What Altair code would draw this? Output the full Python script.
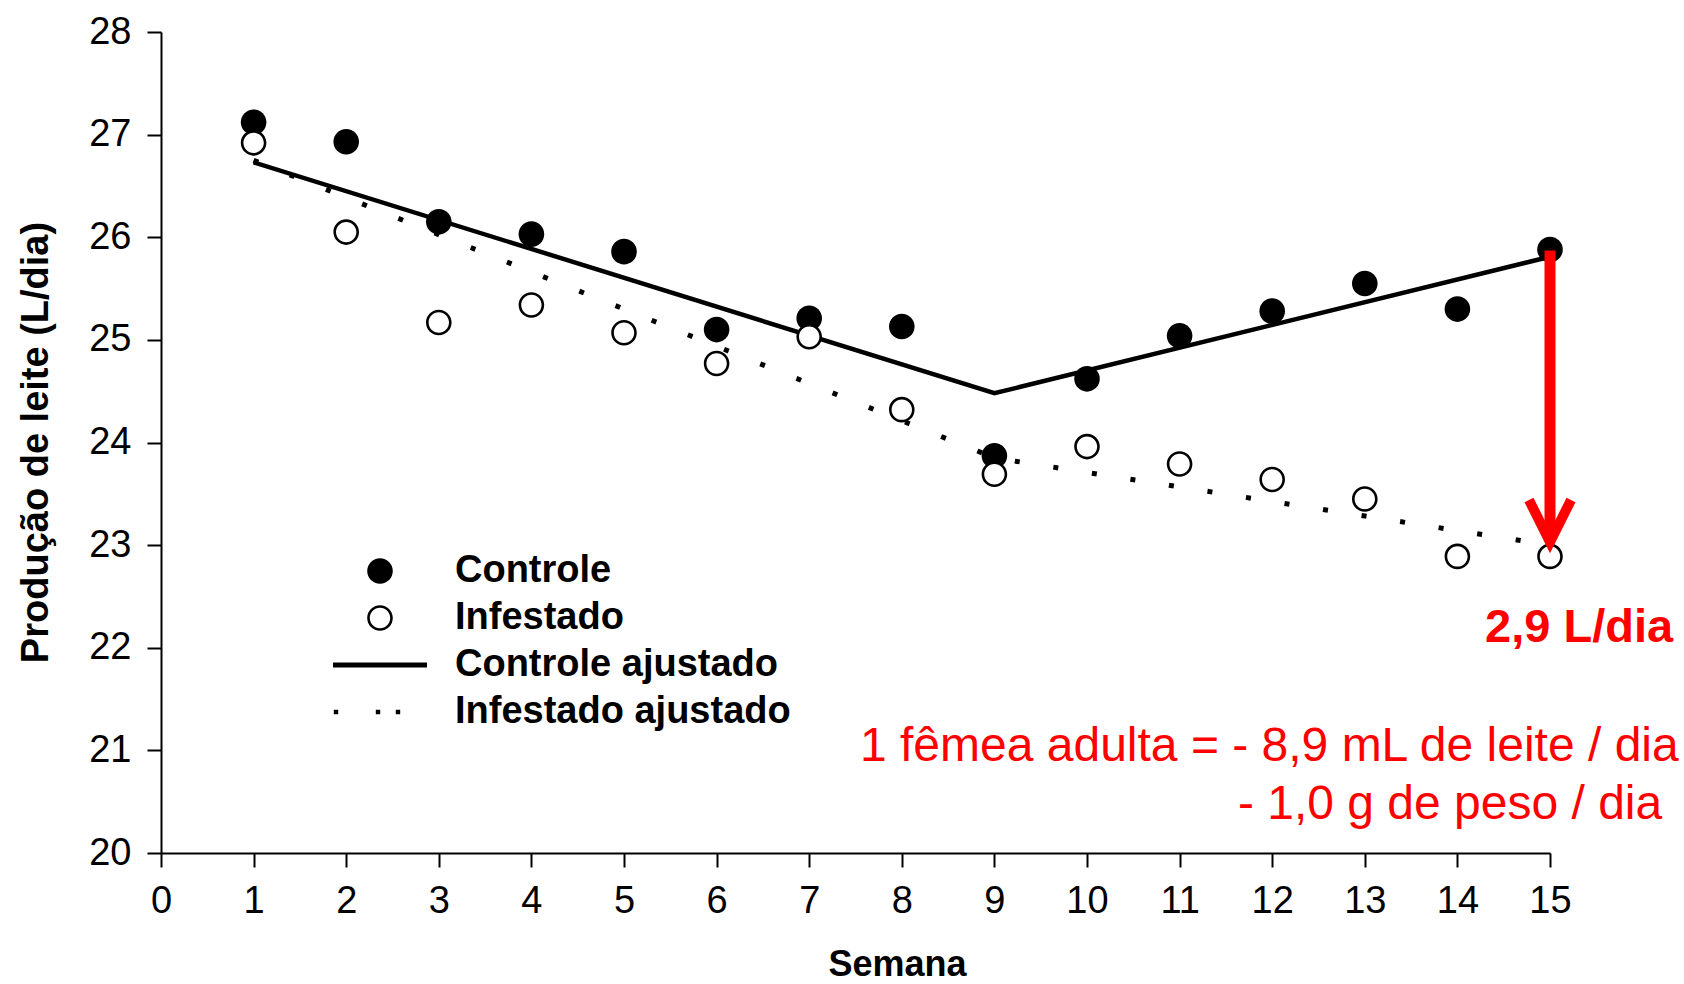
import altair as alt
import pandas as pd

# ---------------- data ----------------
semanas = list(range(1, 16))
controle = [27.12, 26.93, 26.15, 26.03, 25.86, 25.10, 25.21, 25.13, 23.87,
            24.62, 25.04, 25.28, 25.55, 25.30, 25.88]
infestado = [26.92, 26.05, 25.17, 25.34, 25.07, 24.77, 25.03, 24.32, 23.69,
             23.96, 23.79, 23.64, 23.45, 22.89, 22.89]
ajuste_semanas = [1, 9, 15]
controle_ajustado = [26.73, 24.48, 25.81]
infestado_ajustado = [26.75, 23.85, 23.00]
series = ["Controle", "Infestado", "Controle ajustado", "Infestado ajustado"]
x_ticks = list(range(0, 16))
y_ticks = list(range(20, 29))
texto_perda = "2,9 L/dia"
texto_femea_1 = "1 fêmea adulta = - 8,9 mL de leite / dia"
texto_femea_2 = "- 1,0 g de peso / dia"

pts = pd.DataFrame({
    "semana": semanas + semanas,
    "valor": controle + infestado,
    "serie": ["Controle"] * len(semanas) + ["Infestado"] * len(semanas),
})
fit = pd.DataFrame({
    "semana": ajuste_semanas + ajuste_semanas,
    "valor": controle_ajustado + infestado_ajustado,
    "serie": ["Controle ajustado"] * 3 + ["Infestado ajustado"] * 3,
})

FONT = "Liberation Sans"
RED = "#FF0000"

# symbol paths (units: 20 px at size 1600)
P_FILLED = "M0.64,0 A0.64,0.64 0 1,1 -0.64,0 A0.64,0.64 0 1,1 0.64,0 Z"
P_RING = ("M0.64,0 A0.64,0.64 0 1,1 -0.64,0 A0.64,0.64 0 1,1 0.64,0 Z "
          "M0.51,0 A0.51,0.51 0 1,0 -0.51,0 A0.51,0.51 0 1,0 0.51,0 Z")
P_LINE = "M-2.35,-0.13 L2.35,-0.13 L2.35,0.13 L-2.35,0.13 Z"
P_DOTS = ("M-2.31,-0.11 L-2.09,-0.11 L-2.09,0.11 L-2.31,0.11 Z "
          "M-0.21,-0.11 L0.01,-0.11 L0.01,0.11 L-0.21,0.11 Z "
          "M0.79,-0.11 L1.01,-0.11 L1.01,0.11 L0.79,0.11 Z")

x_axis = alt.Axis(
    values=x_ticks, format="d", title="Semana", grid=False,
    labelFont=FONT, labelFontSize=38, labelColor="black", labelPadding=15,
    labelFlush=False, labelOverlap=False,
    tickSize=14, tickWidth=2, tickColor="black",
    domainColor="black", domainWidth=2,
    titleFont=FONT, titleFontSize=36, titleFontWeight="bold", titleColor="black",
    titleX=736, titleY=122, titleAlign="center", titleBaseline="alphabetic",
)
y_axis = alt.Axis(
    values=y_ticks, format="d", title="Produção de leite (L/dia)", grid=False,
    labelFont=FONT, labelFontSize=38, labelColor="black", labelPadding=16,
    labelOverlap=False,
    tickSize=14, tickWidth=2, tickColor="black",
    domainColor="black", domainWidth=2,
    titleFont=FONT, titleFontSize=38, titleFontWeight="bold", titleColor="black",
    titleAngle=270, titleX=-114, titleY=410, titleAlign="center",
    titleBaseline="alphabetic",
)

x_scale = alt.Scale(domain=[0, 15], nice=False, zero=False)
y_scale = alt.Scale(domain=[20, 28], nice=False, zero=False)

def xenc():
    return alt.X("semana:Q", scale=x_scale, axis=x_axis)

def yenc():
    return alt.Y("valor:Q", scale=y_scale, axis=y_axis)

def xdat(v):
    return alt.XDatum(v, scale=x_scale, axis=x_axis)

def ydat(v):
    return alt.YDatum(v, scale=y_scale, axis=y_axis)

legend = alt.Legend(
    title=None, orient="none", legendX=199, legendY=519, padding=0,
    symbolSize=1600, symbolFillColor="black", symbolStrokeWidth=0,
    symbolOpacity=1, labelFont=FONT, labelFontSize=38, labelFontWeight="bold",
    labelColor="black", labelOffset=55, labelLimit=0, rowPadding=8,
)
shape_scale = alt.Scale(domain=series, range=[P_FILLED, P_RING, P_LINE, P_DOTS])

base_fit = alt.Chart(fit)
linha_controle = base_fit.transform_filter(
    alt.datum.serie == "Controle ajustado"
).mark_line(color="black", strokeWidth=4.5).encode(x=xenc(), y=yenc())
linha_infestado = base_fit.transform_filter(
    alt.datum.serie == "Infestado ajustado"
).mark_line(color="black", strokeWidth=5, strokeDash=[5, 34],
            strokeCap="butt").encode(x=xenc(), y=yenc())

base_pts = alt.Chart(pts)
pts_controle = base_pts.transform_filter(
    alt.datum.serie == "Controle"
).mark_point(filled=True, color="black", opacity=1, size=1600, strokeWidth=0).encode(
    x=xenc(), y=yenc(),
    shape=alt.Shape("serie:N", scale=shape_scale, legend=legend),
)
pts_fundo = base_pts.transform_filter(
    alt.datum.serie == "Infestado"
).mark_circle(color="white", opacity=1, size=480).encode(x=xenc(), y=yenc())
pts_infestado = base_pts.transform_filter(
    alt.datum.serie == "Infestado"
).mark_point(filled=True, color="black", opacity=1, size=1600, strokeWidth=0).encode(
    x=xenc(), y=yenc(),
    shape=alt.Shape("serie:N", scale=shape_scale, legend=legend),
)

seta = alt.Chart().mark_rule(color=RED, strokeWidth=11).encode(
    x=xdat(15), y=ydat(25.87), y2=alt.Y2Datum(23.03),
)
ponta = alt.Chart().mark_point(
    shape="M-0.5,-1 L0,0 L0.5,-1", filled=False, stroke=RED, strokeWidth=10,
    size=7056, opacity=1, strokeJoin="miter",
).encode(x=xdat(15), y=ydat(23.03))

txt_perda = alt.Chart().mark_text(
    text=texto_perda, font=FONT, fontSize=47, fontWeight="bold", color=RED,
    align="right", baseline="alphabetic",
).encode(x=xdat(16.33), y=ydat(22.06))
txt_f1 = alt.Chart().mark_text(
    text=texto_femea_1, font=FONT, fontSize=48, color=RED,
    align="right", baseline="alphabetic",
).encode(x=xdat(16.39), y=ydat(20.90))
txt_f2 = alt.Chart().mark_text(
    text=texto_femea_2, font=FONT, fontSize=48, color=RED,
    align="left", baseline="alphabetic",
).encode(x=xdat(11.63), y=ydat(20.33))

chart = alt.layer(
    linha_controle, linha_infestado, pts_controle, pts_fundo, pts_infestado,
    seta, ponta, txt_perda, txt_f1, txt_f2,
).properties(
    width=1389, height=821,
    autosize=alt.AutoSizeParams(type="none"),
    padding={"left": 161, "top": 32, "right": 134, "bottom": 131},
    background="white",
).configure_view(stroke=None)

chart.save("out.html", embed_options={"renderer": "svg", "actions": False})
